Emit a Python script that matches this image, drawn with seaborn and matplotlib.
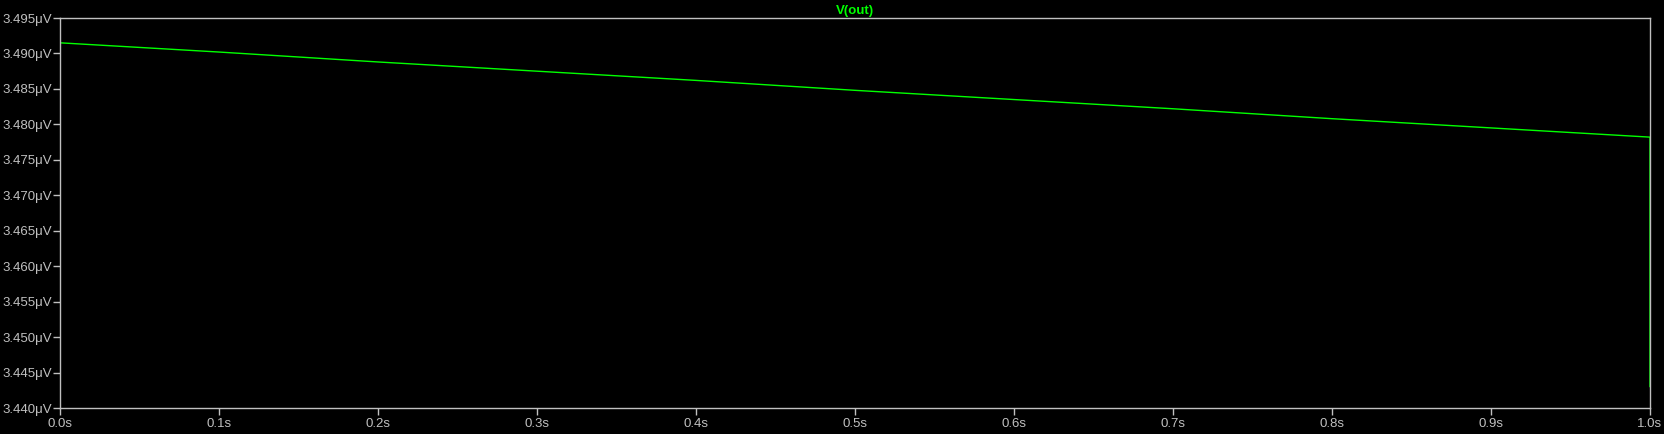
import numpy as np
import pandas as pd
import matplotlib
matplotlib.use("Agg")
import matplotlib.pyplot as plt
import seaborn as sns

sns.set_style("dark")
plt.rcParams["font.family"] = ["Liberation Sans", "DejaVu Sans"]

# waveform V(out) (uV vs s)
time_s = [0.0, 0.1, 0.2, 0.3, 0.4, 0.5, 0.6, 0.7, 0.8, 0.9, 1.0, 1.0]
vout_uv = [3.4915, 3.4902, 3.4888, 3.4875, 3.4862, 3.4848, 3.4835, 3.4822, 3.4808, 3.4795, 3.4782, 3.4430]

x_ticks = [0.0, 0.1, 0.2, 0.3, 0.4, 0.5, 0.6, 0.7, 0.8, 0.9, 1.0]
y_ticks = [3.440, 3.445, 3.450, 3.455, 3.460, 3.465, 3.470, 3.475, 3.480, 3.485, 3.490, 3.495]

df = pd.DataFrame({"t": time_s, "v": vout_uv})

GRAY = "#c0c0c0"
GREEN = "#00ff00"

fig = plt.figure(figsize=(16.64, 4.34), dpi=100, facecolor="black")
ax = fig.add_axes([60 / 1664, 1 - 408 / 434, 1590 / 1664, 390 / 434])
ax.set_facecolor("black")

sns.lineplot(data=df, x="t", y="v", sort=False, estimator=None,
             color=GREEN, linewidth=1.0, ax=ax)

ax.set_xlim(0.0, 1.0)
ax.set_ylim(3.440, 3.495)
ax.set_xticks(x_ticks)
ax.set_xticklabels([f"{t:.1f}s" for t in x_ticks])
ax.set_yticks(y_ticks)
ax.set_yticklabels([f"{v:.3f}\u03bcV" for v in y_ticks])
ax.grid(False)
ax.set_xlabel("")
ax.set_ylabel("")

for s in ax.spines.values():
    s.set_visible(True)
    s.set_color(GRAY)
    s.set_linewidth(1.0)

ax.tick_params(axis="both", colors=GRAY, labelcolor=GRAY, labelsize=9.5,
               direction="out", length=5, width=1, pad=1)
ax.tick_params(axis="x", bottom=True, pad=2)
ax.tick_params(axis="y", left=True)

ax.set_title("V(out)", color=GREEN, fontsize=9.5, fontweight="bold", pad=3)

fig.savefig("out.png", dpi=100, facecolor="black")
